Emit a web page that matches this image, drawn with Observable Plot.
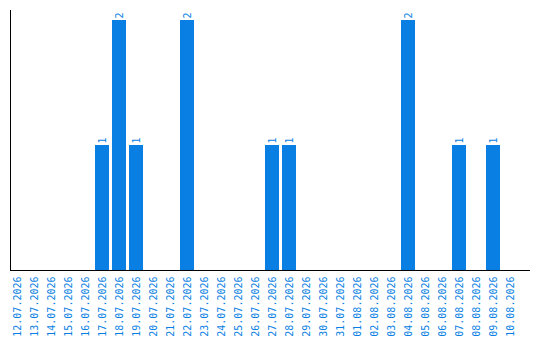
<!DOCTYPE html>
<html>
<head>
<meta charset="utf-8">
<script src="https://cdn.jsdelivr.net/npm/d3@7"></script>
<script src="https://cdn.jsdelivr.net/npm/@observablehq/plot@0.6"></script>
<style>
  html, body { margin: 0; padding: 0; background: #fff; }
</style>
</head>
<body>
<div id="chart"></div>
<script>
// Daily counts, 12.07.2026 – 10.08.2026
const days = [
  "12.07.2026", "13.07.2026", "14.07.2026", "15.07.2026", "16.07.2026",
  "17.07.2026", "18.07.2026", "19.07.2026", "20.07.2026", "21.07.2026",
  "22.07.2026", "23.07.2026", "24.07.2026", "25.07.2026", "26.07.2026",
  "27.07.2026", "28.07.2026", "29.07.2026", "30.07.2026", "31.07.2026",
  "01.08.2026", "02.08.2026", "03.08.2026", "04.08.2026", "05.08.2026",
  "06.08.2026", "07.08.2026", "08.08.2026", "09.08.2026", "10.08.2026"
];
const counts = [
  0, 0, 0, 0, 0,
  1, 2, 1, 0, 0,
  2, 0, 0, 0, 0,
  1, 1, 0, 0, 0,
  0, 0, 0, 2, 0,
  0, 1, 0, 1, 0
];

const rows = days.map((day, i) => ({day, count: counts[i]}));
const nonZero = rows.filter(d => d.count > 0);

const blue = "#0a7fe3";
const mono = "DejaVu Sans Mono";

const chart = Plot.plot({
  width: 540,
  height: 340,
  marginTop: 10,
  marginLeft: 10,
  marginRight: 10,
  marginBottom: 70,
  style: {background: "#fff", fontFamily: mono},
  x: {domain: days, range: [10, 517], paddingInner: 0.176, paddingOuter: 0, align: 0, round: false, label: null},
  y: {domain: [0, 2.08], axis: null},
  marks: [
    Plot.barY(rows, {x: "day", y: "count", fill: blue}),
    Plot.text(nonZero, {
      x: "day", y: "count", text: d => String(d.count),
      rotate: -90, textAnchor: "start", dy: -2,
      fill: blue, fontSize: 10, fontFamily: mono
    }),
    Plot.axisX({
      tickSize: 0, tickRotate: -90, tickPadding: 6,
      fill: blue, fontSize: 10, fontFamily: mono, label: null
    }),
    Plot.ruleY([0], {stroke: "#000", strokeWidth: 1}),
    Plot.frame({anchor: "left", stroke: "#000", strokeWidth: 1})
  ]
});

document.getElementById("chart").appendChild(chart);
</script>
</body>
</html>
